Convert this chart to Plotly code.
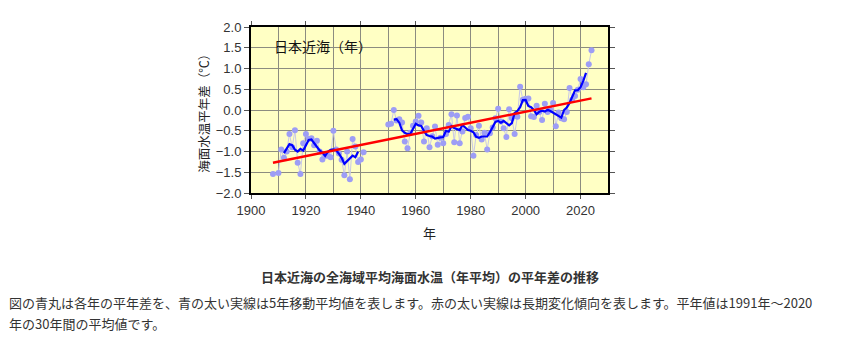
import plotly.graph_objects as go
import pandas as pd

# Annual anomaly (deg C) of area-averaged SST around Japan, 1908-2024 (None = no data)
years = list(range(1908, 2025))
anom_1908_1909 = [-1.54, None]
anom_1910s = [-1.52, -0.95, -1.15, -1.00, -0.58, -0.90, -0.49, -1.27, -1.54, -0.80]
anom_1920s = [-0.58, -0.70, -0.68, -0.85, -0.74, -1.00, -1.19, -1.10, -1.10, -1.14]
anom_1930s = [-0.50, -0.95, -1.05, -1.20, -1.57, -1.00, -1.67, -0.70, -0.88, -1.25]
anom_1940s = [-1.19, -1.02, None, None, None, None, None, None, None, None]
anom_1950s = [-0.35, -0.33, 0.00, -0.25, -0.22, -0.30, -0.76, -0.92, -0.55, -0.38]
anom_1960s = [-0.28, -0.14, -0.30, -0.76, -0.44, -0.90, -0.63, -0.40, -0.84, -0.67]
anom_1970s = [-0.80, -0.58, -0.36, -0.10, -0.78, -0.13, -0.80, -0.52, -0.19, -0.16]
anom_1980s = [-0.44, -1.10, -0.60, -0.38, -0.71, -0.55, -0.95, -0.56, -0.42, -0.20]
anom_1990s = [0.03, -0.28, -0.44, -0.65, 0.02, -0.20, -0.58, -0.16, 0.56, 0.25]
anom_2000s = [0.27, 0.28, -0.15, -0.17, 0.10, -0.05, -0.24, 0.15, -0.05, 0.00]
anom_2010s = [0.17, -0.39, -0.06, -0.20, -0.22, -0.05, 0.53, 0.25, 0.34, 0.49]
anom_2020s = [0.75, 0.55, 0.62, 1.10, 1.44]

# Long-term trend line end points
trend_years = [1908, 2024]
trend_values = [-1.27, 0.28]

x_ticks = [1900, 1920, 1940, 1960, 1980, 2000, 2020]
y_ticks = [-2.0, -1.5, -1.0, -0.5, 0.0, 0.5, 1.0, 1.5, 2.0]

anomaly = (anom_1908_1909 + anom_1910s + anom_1920s + anom_1930s + anom_1940s +
           anom_1950s + anom_1960s + anom_1970s + anom_1980s + anom_1990s +
           anom_2000s + anom_2010s + anom_2020s)
series = pd.Series(anomaly, index=years, dtype=float)
ma5 = series.rolling(5, center=True, min_periods=5).mean()

fig = go.Figure()
fig.add_trace(go.Scatter(
    x=years, y=series.values, mode="lines+markers",
    line=dict(color="#c8c8e8", width=1),
    marker=dict(color="#9d9df5", size=6),
    connectgaps=False, showlegend=False, hoverinfo="x+y"))
fig.add_trace(go.Scatter(
    x=years, y=ma5.values, mode="lines",
    line=dict(color="#0000ff", width=2.2),
    connectgaps=False, showlegend=False))
fig.add_trace(go.Scatter(
    x=trend_years, y=trend_values, mode="lines",
    line=dict(color="#ff0000", width=2.5), showlegend=False))

tick_font = dict(family="Liberation Sans, Arial, sans-serif", size=13, color="#333333")
jp = "Noto Sans CJK JP, Noto Sans, sans-serif"

fig.update_layout(
    width=856, height=341, autosize=False,
    margin=dict(l=251, r=248, t=27, b=148),
    paper_bgcolor="white", plot_bgcolor="#ffffc4",
    xaxis=dict(range=[1900, 2030], tickvals=x_ticks, ticks="outside", ticklen=4,
               tickcolor="#555555", showgrid=True, gridcolor="#8c8c80", gridwidth=1,
               minor=dict(dtick=10, tick0=1900, showgrid=True, gridcolor="#8c8c80", gridwidth=1),
               showline=True, linecolor="black", linewidth=2, mirror="allticks",
               tickfont=tick_font, zeroline=False, fixedrange=True),
    yaxis=dict(range=[-2, 2], tickvals=y_ticks, tickformat=".1f", ticks="outside", ticklen=5,
               tickcolor="#555555", showgrid=True, gridcolor="#8c8c80", gridwidth=1,
               showline=True, linecolor="black", linewidth=2, mirror="allticks",
               tickfont=tick_font, zeroline=False, fixedrange=True),
    annotations=[
        dict(text="日本近海（年）", xref="paper", yref="paper", x=0.058, y=0.885,
             xanchor="left", yanchor="middle", showarrow=False,
             font=dict(family=jp, size=14, color="#111111")),
        dict(text="海面水温平年差（℃）", xref="paper", yref="paper", x=-0.135, y=0.5,
             xanchor="center", yanchor="middle", textangle=-90, showarrow=False,
             font=dict(family=jp, size=12.5, color="#222222")),
        dict(text="年", xref="paper", yref="paper", x=0.5, y=-0.235,
             xanchor="center", yanchor="middle", showarrow=False,
             font=dict(family=jp, size=13, color="#222222")),
        dict(text="<b>日本近海の全海域平均海面水温（年平均）の平年差の推移</b>",
             xref="paper", yref="paper", x=0.5, y=-0.505,
             xanchor="center", yanchor="middle", showarrow=False,
             font=dict(family=jp, size=13, color="#333333")),
        dict(text="図の青丸は各年の平年差を、青の太い実線は5年移動平均値を表します。赤の太い実線は長期変化傾向を表します。平年値は1991年～2020",
             xref="paper", yref="paper", x=-0.683, y=-0.66,
             xanchor="left", yanchor="middle", showarrow=False,
             font=dict(family=jp, size=13, color="#333333")),
        dict(text="年の30年間の平均値です。",
             xref="paper", yref="paper", x=-0.683, y=-0.787,
             xanchor="left", yanchor="middle", showarrow=False,
             font=dict(family=jp, size=13, color="#333333")),
    ],
)

fig.write_html("out.html")
